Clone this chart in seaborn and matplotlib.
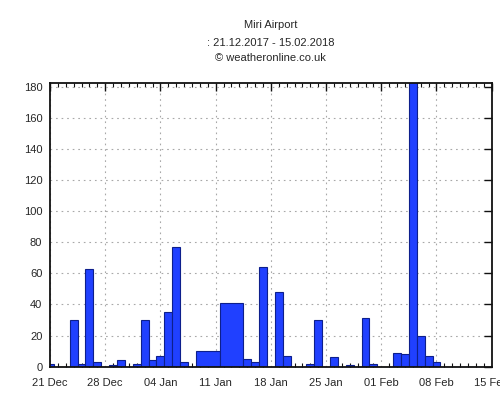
import matplotlib
matplotlib.use("Agg")
import matplotlib.pyplot as plt
import numpy as np
import pandas as pd
import seaborn as sns

# daily precipitation, Miri Airport, 21.12.2017 - 15.02.2018
dates = pd.date_range("2017-12-21", "2018-02-15", freq="D")
precip = [
    2, 0, 0, 30, 2, 63, 3,        # 21 Dec - 27 Dec
    0, 1, 4, 0, 2, 30, 4,         # 28 Dec - 03 Jan
    7, 35, 77, 3, 0, 10, 10,      # 04 Jan - 10 Jan
    10, 41, 41, 41, 5, 3, 64,     # 11 Jan - 17 Jan
    0, 48, 7, 0, 0, 2, 30,        # 18 Jan - 24 Jan
    0, 6, 0, 1, 0, 31, 2,         # 25 Jan - 31 Jan
    0, 0, 9, 8, 185, 20, 7,       # 01 Feb - 07 Feb
    3, 0, 0, 0, 0, 0, 0,          # 08 Feb - 14 Feb
    0,                            # 15 Feb
]
title_lines = ["Miri Airport", ": 21.12.2017 - 15.02.2018", "\u00a9 weatheronline.co.uk"]
y_ticks = list(range(0, 181, 20))

sns.set_style("white")
plt.rcParams["font.family"] = ["Liberation Sans", "DejaVu Sans"]

days = np.arange(len(dates))
values = np.array(precip, dtype=float)

# merge runs of equal consecutive values into one box (as in the original)
edges = [days[0] - 0.5]
centers, weights = [], []
start = 0
for i in range(1, len(values) + 1):
    if i == len(values) or values[i] != values[start]:
        edges.append(days[i - 1] + 0.5)
        centers.append((days[start] + days[i - 1]) / 2)
        weights.append(values[start])
        start = i

fig = plt.figure(figsize=(5, 4), dpi=100)
ax = fig.add_axes([0.1, 0.0833, 0.8834, 0.7085])

sns.histplot(
    x=centers,
    weights=weights,
    bins=edges,
    stat="count",
    color="#2040ff",
    alpha=1.0,
    edgecolor="#0d1f8c",
    linewidth=0.8,
    ax=ax,
)

ax.set_xlim(days[0], days[-1])
ax.set_ylim(0, 182.3)

week_idx = days[::7]
ax.set_xticks(week_idx)
ax.set_xticklabels([d.strftime("%d %b") for d in dates[::7]])
ax.set_xticks(days, minor=True)
ax.set_yticks(y_ticks)

ax.tick_params(axis="both", which="major", direction="in", length=5.5, width=1,
               labelsize=8, color="#111111", top=True, right=True)
ax.tick_params(axis="x", which="minor", direction="in", length=3, width=0.8,
               color="#111111", top=True, bottom=True)
ax.tick_params(axis="y", pad=5.5)
ax.tick_params(axis="x", pad=8)

ax.grid(True, which="major", color="#a8a8a8", linestyle=(0, (1.5, 3.5)), linewidth=0.8)
ax.set_axisbelow(True)

for side in ["left", "bottom", "right", "top"]:
    ax.spines[side].set_visible(True)
    ax.spines[side].set_color("#111111")
    ax.spines[side].set_linewidth(1.3)

ax.set_xlabel("")
ax.set_ylabel("")

for line, y in zip(title_lines, [0.9375, 0.893, 0.854]):
    fig.text(0.5417, y, line, ha="center", va="center", fontsize=8)

fig.savefig("out.png", dpi=100)
plt.close(fig)
